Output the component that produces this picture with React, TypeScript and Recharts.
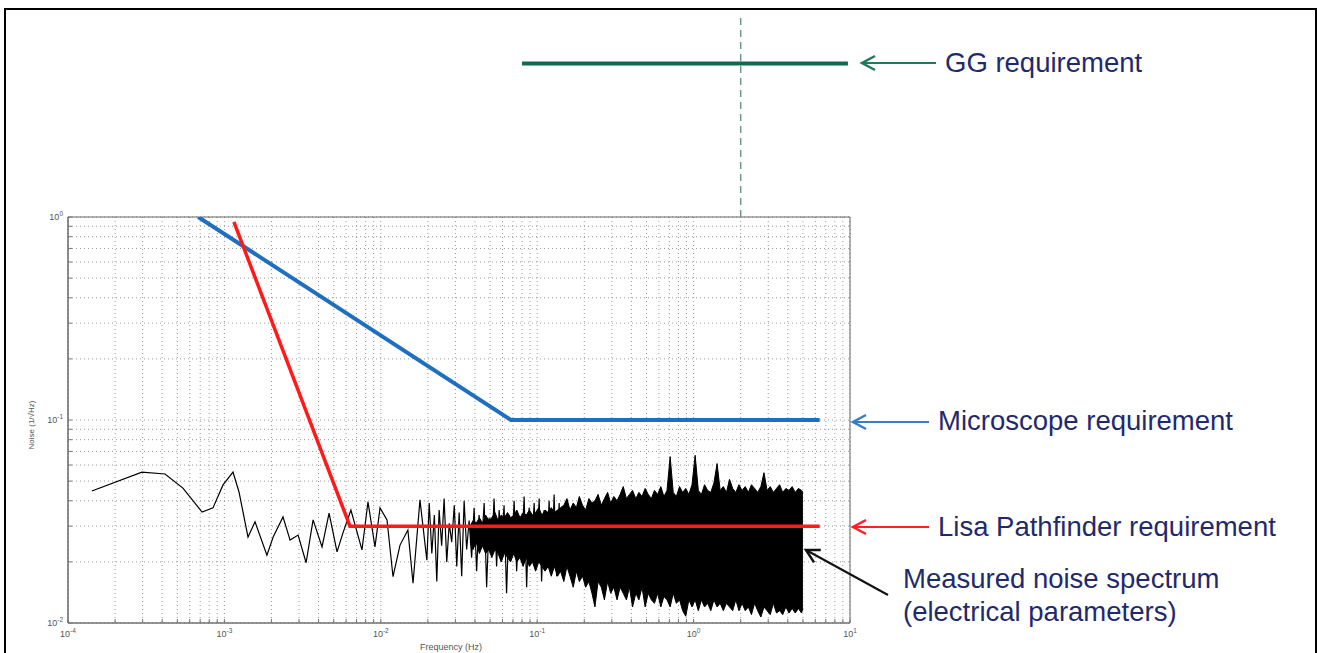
import React from 'react';
import {
  ComposedChart,
  LineChart,
  Line,
  Area,
  XAxis,
  YAxis,
  CartesianGrid,
  ReferenceArea,
  ReferenceLine,
} from 'recharts';

const W = 1317;
const H = 653;

// log axes: decades + minor positions
const xTicks = [
  1e-4, 2e-4, 3e-4, 4e-4, 5e-4, 6e-4, 7e-4, 8e-4, 9e-4,
  1e-3, 2e-3, 3e-3, 4e-3, 5e-3, 6e-3, 7e-3, 8e-3, 9e-3,
  0.01, 0.02, 0.03, 0.04, 0.05, 0.06, 0.07, 0.08, 0.09,
  0.1, 0.2, 0.3, 0.4, 0.5, 0.6, 0.7, 0.8, 0.9,
  1, 2, 3, 4, 5, 6, 7, 8, 9, 10,
];
const yTicks = [
  0.01, 0.02, 0.03, 0.04, 0.05, 0.06, 0.07, 0.08, 0.09,
  0.1, 0.2, 0.3, 0.4, 0.5, 0.6, 0.7, 0.8, 0.9, 1,
];

// requirements [Hz, value]
const microscopeReq = [[6.8e-4, 1], [0.068, 0.1], [6.4, 0.1]];
const lisaReq = [[1.15e-3, 0.945], [6.35e-3, 0.03], [6.4, 0.03]];
const ggReq = [[0.08, 5.7], [9.7, 5.7]];
const ggSpinHz = 2;

// measured noise, low frequencies [Hz, value]
const noiseLow = [
  [1.42e-4, 0.0447], [2.97e-4, 0.0554], [4.17e-4, 0.0542], [5.43e-4, 0.0462],
  [7.2e-4, 0.0352], [8.45e-4, 0.0369], [9.8e-4, 0.0479], [1.135e-3, 0.0554],
  [1.24e-3, 0.0442], [1.416e-3, 0.0265], [1.57e-3, 0.0315], [1.87e-3, 0.0216],
  [2.05e-3, 0.0265], [2.37e-3, 0.0333], [2.63e-3, 0.0256], [2.96e-3, 0.0271],
  [3.33e-3, 0.0198], [3.69e-3, 0.0322], [4.21e-3, 0.0237], [4.67e-3, 0.0348],
  [5.25e-3, 0.0224], [5.73e-3, 0.0278], [6.44e-3, 0.036], [7.58e-3, 0.0229],
  [8.28e-3, 0.0395], [9.18e-3, 0.0237], [9.89e-3, 0.0369], [0.01096, 0.0322],
  [0.01197, 0.0169], [0.01327, 0.0242], [0.0149, 0.0287], [0.01607, 0.0157],
  [0.0178, 0.0404], [0.0197, 0.0204],
];

// scribbly part 0.02 - 0.14 Hz
const noiseMid = [
  [0.0204, 0.039], [0.0212, 0.022], [0.022, 0.034], [0.0228, 0.016], [0.0236, 0.036],
  [0.0245, 0.024], [0.0254, 0.041], [0.0264, 0.02], [0.0274, 0.031], [0.0284, 0.025],
  [0.0295, 0.038], [0.0306, 0.019], [0.0317, 0.035], [0.0329, 0.017], [0.0341, 0.04],
  [0.0354, 0.023], [0.0367, 0.032], [0.0381, 0.021], [0.0395, 0.037], [0.041, 0.018],
  [0.0425, 0.034], [0.0441, 0.024], [0.0458, 0.039], [0.0475, 0.015], [0.0493, 0.033],
  [0.0511, 0.022], [0.053, 0.041], [0.055, 0.019], [0.0571, 0.036], [0.0592, 0.024],
  [0.0614, 0.038], [0.0637, 0.014], [0.0661, 0.034], [0.0686, 0.021], [0.0712, 0.04],
  [0.0739, 0.018], [0.0766, 0.033], [0.0795, 0.022], [0.0825, 0.042], [0.0856, 0.015],
  [0.0888, 0.037], [0.0921, 0.023], [0.0956, 0.039], [0.0992, 0.019], [0.1029, 0.041],
  [0.1067, 0.016], [0.1107, 0.036], [0.1149, 0.021], [0.1192, 0.04], [0.1237, 0.018],
  [0.1283, 0.043], [0.1331, 0.017], [0.1381, 0.039], [0.1433, 0.019],
];

// dense part, drawn as envelope [Hz, min, max]
const noiseBand = [
  [0.0372, 0.025, 0.03], [0.0389, 0.023, 0.032], [0.0407, 0.025, 0.031], [0.0427, 0.022, 0.033],
  [0.0447, 0.024, 0.031], [0.0468, 0.022, 0.034], [0.049, 0.023, 0.032], [0.0513, 0.021, 0.033],
  [0.0537, 0.023, 0.035], [0.0562, 0.022, 0.032], [0.0589, 0.02, 0.034], [0.0617, 0.022, 0.033],
  [0.0646, 0.021, 0.035], [0.0676, 0.02, 0.033], [0.0708, 0.022, 0.034], [0.0741, 0.02, 0.036],
  [0.0776, 0.021, 0.033], [0.0813, 0.019, 0.035], [0.0851, 0.021, 0.034], [0.0891, 0.019, 0.036],
  [0.0933, 0.02, 0.034], [0.0977, 0.018, 0.035], [0.1023, 0.02, 0.037], [0.1072, 0.019, 0.034],
  [0.1122, 0.018, 0.036], [0.1175, 0.019, 0.035], [0.123, 0.017, 0.037], [0.1288, 0.019, 0.035],
  [0.1349, 0.017, 0.036],
  [0.141, 0.018, 0.037], [0.148, 0.016, 0.038], [0.155, 0.019, 0.041], [0.162, 0.017, 0.036],
  [0.17, 0.015, 0.039], [0.178, 0.018, 0.037], [0.186, 0.016, 0.042], [0.195, 0.017, 0.038],
  [0.204, 0.015, 0.036], [0.214, 0.016, 0.041], [0.224, 0.014, 0.039], [0.234, 0.012, 0.04],
  [0.245, 0.016, 0.043], [0.257, 0.015, 0.038], [0.269, 0.013, 0.041], [0.282, 0.016, 0.044],
  [0.295, 0.014, 0.039], [0.309, 0.015, 0.042], [0.324, 0.013, 0.04], [0.339, 0.015, 0.043],
  [0.355, 0.014, 0.047], [0.372, 0.013, 0.041], [0.389, 0.015, 0.043], [0.407, 0.012, 0.045],
  [0.427, 0.014, 0.041], [0.447, 0.013, 0.044], [0.468, 0.015, 0.042], [0.49, 0.012, 0.046],
  [0.513, 0.014, 0.043], [0.537, 0.013, 0.041], [0.562, 0.0125, 0.045], [0.589, 0.014, 0.043],
  [0.617, 0.012, 0.047], [0.646, 0.0135, 0.042], [0.676, 0.013, 0.045], [0.708, 0.012, 0.066],
  [0.741, 0.014, 0.044], [0.776, 0.0125, 0.042], [0.813, 0.013, 0.047], [0.851, 0.0115, 0.044],
  [0.891, 0.0108, 0.046], [0.933, 0.013, 0.043], [0.977, 0.012, 0.048], [1.023, 0.013, 0.067],
  [1.072, 0.0115, 0.045], [1.122, 0.013, 0.043], [1.175, 0.012, 0.048], [1.23, 0.0125, 0.045],
  [1.288, 0.0115, 0.044], [1.349, 0.013, 0.049], [1.413, 0.012, 0.061], [1.479, 0.0125, 0.045],
  [1.549, 0.0115, 0.047], [1.622, 0.0125, 0.044], [1.698, 0.012, 0.051], [1.778, 0.0115, 0.046],
  [1.862, 0.013, 0.044], [1.95, 0.0115, 0.048], [2.042, 0.0125, 0.045], [2.138, 0.0115, 0.047],
  [2.239, 0.012, 0.044], [2.344, 0.011, 0.048], [2.455, 0.0125, 0.046], [2.57, 0.0115, 0.044],
  [2.692, 0.0107, 0.047], [2.818, 0.012, 0.055], [2.951, 0.0115, 0.045], [3.09, 0.011, 0.047],
  [3.236, 0.0125, 0.044], [3.388, 0.0112, 0.046], [3.548, 0.0115, 0.048], [3.715, 0.011, 0.044],
  [3.89, 0.012, 0.046], [4.074, 0.0112, 0.045], [4.266, 0.0118, 0.047], [4.467, 0.0112, 0.044],
  [4.677, 0.0118, 0.046], [4.898, 0.0112, 0.045], [5.0, 0.0118, 0.044],
];

const rows: any[] = [
  ...noiseLow.map(([f, v]) => ({ f, noise: v })),
  ...noiseMid.map(([f, v]) => ({ f, noise: v })),
  ...noiseBand.map(([f, lo, hi]) => ({ f, band: [lo, hi] })),
  ...microscopeReq.map(([f, v]) => ({ f, microscope: v })),
  ...lisaReq.map(([f, v]) => ({ f, lisa: v })),
].sort((a, b) => a.f - b.f);

const ggRows = ggReq.map(([f, v]) => ({ f, gg: v }));

const FONT = '"Liberation Sans", Arial, sans-serif';
const TICK = '#777';
const LABEL = '#555';
const NAVY = '#1f2a6c';

const isDecade = (v: number) => Math.abs(Math.log10(v) - Math.round(Math.log10(v))) < 1e-6;
const expOf = (v: number) => Math.round(Math.log10(v));

const BottomTick = ({ x, y, payload }: any) => (
  <g>
    <line x1={x} y1={y} x2={x} y2={y - 4} stroke={TICK} />
    {isDecade(payload.value) && (
      <text x={x} y={y + 14} textAnchor="middle" fontSize={9} fill={LABEL} fontFamily={FONT}>
        10<tspan dy={-4} fontSize={6.5}>{expOf(payload.value)}</tspan>
      </text>
    )}
  </g>
);

const LeftTick = ({ x, y, payload }: any) => (
  <g>
    <line x1={x} y1={y} x2={x + 4} y2={y} stroke={TICK} />
    {isDecade(payload.value) && (
      <text x={x - 5} y={y + 3} textAnchor="end" fontSize={9} fill={LABEL} fontFamily={FONT}>
        10<tspan dy={-4} fontSize={6.5}>{expOf(payload.value)}</tspan>
      </text>
    )}
  </g>
);

const TopTick = ({ x, y }: any) => <line x1={x} y1={y} x2={x} y2={y + 4} stroke={TICK} />;
const RightTick = ({ x, y }: any) => <line x1={x} y1={y} x2={x - 4} y2={y} stroke={TICK} />;

const Arrow = ({ x1, y1, x2, y2, color }: any) => {
  // tail (x1,y1) -> head (x2,y2)
  const dx = x2 - x1;
  const dy = y2 - y1;
  const len = Math.sqrt(dx * dx + dy * dy);
  const ux = dx / len;
  const uy = dy / len;
  const bx = x2 - ux * 13;
  const by = y2 - uy * 13;
  const px = -uy * 7;
  const py = ux * 7;
  return (
    <g stroke={color} strokeWidth={2} fill="none">
      <line x1={x1} y1={y1} x2={x2} y2={y2} />
      <polyline points={`${bx + px},${by + py} ${x2},${y2} ${bx - px},${by - py}`} strokeWidth={2.5} />
    </g>
  );
};

export default function App() {
  return (
    <div style={{ position: 'absolute', left: 0, top: 0, width: W, height: H, background: '#fff', overflow: 'hidden' }}>
      <div
        style={{
          position: 'absolute', left: 4, top: 8, width: 1313, height: 720,
          border: '2px solid #000', boxSizing: 'border-box',
        }}
      />

      <div style={{ position: 'absolute', left: 0, top: 0 }}>
        <ComposedChart width={W} height={H} data={rows} margin={{ top: 217, right: 467, bottom: 0, left: 28 }}>
          <CartesianGrid stroke="#999" strokeDasharray="1 3" />
          <XAxis
            dataKey="f" type="number" scale="log" domain={[1e-4, 10]} allowDataOverflow
            ticks={xTicks} interval={0} height={30} tickSize={0} tickMargin={0} tickLine={false}
            axisLine={{ stroke: TICK }} tick={<BottomTick />}
          />
          <XAxis
            xAxisId="top" orientation="top" dataKey="f" type="number" scale="log" domain={[1e-4, 10]}
            allowDataOverflow ticks={xTicks} interval={0} height={0} tickSize={0} tickMargin={0}
            tickLine={false} axisLine={false} tick={<TopTick />}
          />
          <YAxis
            type="number" scale="log" domain={[0.01, 1]} allowDataOverflow ticks={yTicks} interval={0}
            width={40} tickSize={0} tickMargin={0} tickLine={false} axisLine={{ stroke: '#666' }}
            tick={<LeftTick />}
          />
          <YAxis
            yAxisId="right" orientation="right" type="number" scale="log" domain={[0.01, 1]}
            allowDataOverflow ticks={yTicks} interval={0} width={0} tickSize={0} tickMargin={0}
            tickLine={false} axisLine={false} tick={<RightTick />}
          />
          <ReferenceArea x1={1e-4} x2={10} y1={0.01} y2={1} fill="none" stroke="#666" strokeWidth={1} />
          <Area
            dataKey="band" type="linear" connectNulls stroke="#000" strokeWidth={1}
            fill="#000" fillOpacity={1} dot={false} activeDot={false} isAnimationActive={false}
          />
          <Line
            dataKey="noise" type="linear" connectNulls stroke="#000" strokeWidth={1.2}
            dot={false} activeDot={false} isAnimationActive={false}
          />
          <Line
            dataKey="microscope" type="linear" connectNulls stroke="#1f6fc1" strokeWidth={4}
            dot={false} activeDot={false} isAnimationActive={false}
          />
          <Line
            dataKey="lisa" type="linear" connectNulls stroke="#ff1a1a" strokeWidth={3.5}
            dot={false} activeDot={false} isAnimationActive={false}
          />
        </ComposedChart>
      </div>

      <div style={{ position: 'absolute', left: 0, top: 0 }}>
        <LineChart width={W} height={H} data={ggRows} margin={{ top: 14, right: 467, bottom: 30, left: 68 }}>
          <XAxis dataKey="f" type="number" scale="log" domain={[1e-4, 10]} allowDataOverflow hide />
          <YAxis type="number" scale="log" domain={[0.01, 10]} allowDataOverflow hide />
          <ReferenceLine
            segment={[{ x: ggSpinHz, y: 1 }, { x: ggSpinHz, y: 10 }]}
            stroke="#6b9a8b" strokeWidth={1.5} strokeDasharray="7 5" ifOverflow="visible"
          />
          <Line
            dataKey="gg" type="linear" stroke="#0f6a4f" strokeWidth={4}
            dot={false} activeDot={false} isAnimationActive={false}
          />
        </LineChart>
      </div>

      <svg width={W} height={H} style={{ position: 'absolute', left: 0, top: 0, pointerEvents: 'none' }}>
        <text x={420} y={650} fontSize={9} fill={LABEL} fontFamily={FONT}>Frequency (Hz)</text>
        <text
          x={34} y={425} fontSize={8} fill={LABEL} fontFamily={FONT} textAnchor="middle"
          transform="rotate(-90 34 425)"
        >
          Noise (1/√Hz)
        </text>

        <Arrow x1={936} y1={63} x2={862} y2={63} color="#1f7a5c" />
        <Arrow x1={929} y1={422} x2={853} y2={422} color="#3a7cc7" />
        <Arrow x1={929} y1={527} x2={853} y2={527} color="#ff2020" />
        <Arrow x1={888} y1={595} x2={806} y2={550} color="#111" />

        <g fontFamily={FONT} fontSize={27.5} fill={NAVY}>
          <text x={945} y={72}>GG requirement</text>
          <text x={938} y={430}>Microscope requirement</text>
          <text x={938} y={536}>Lisa Pathfinder requirement</text>
          <text x={903} y={588}>Measured noise spectrum</text>
          <text x={903} y={621}>(electrical parameters)</text>
        </g>
      </svg>
    </div>
  );
}
